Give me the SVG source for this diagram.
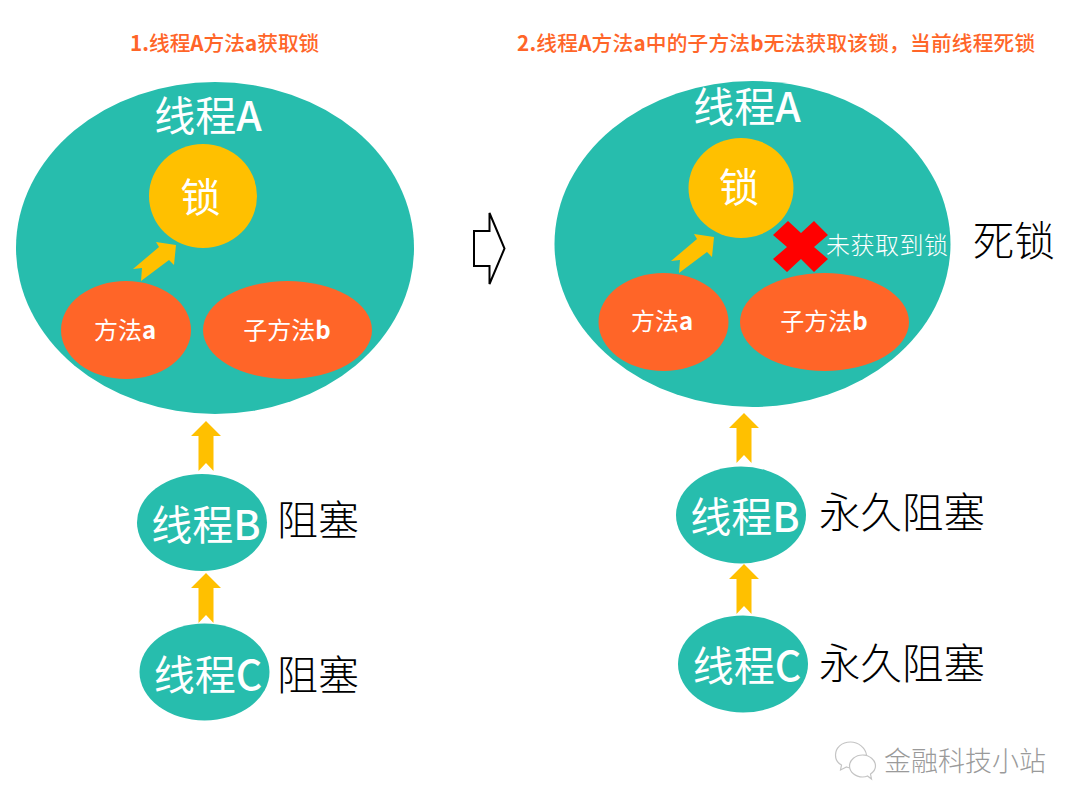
<svg xmlns="http://www.w3.org/2000/svg" width="1080" height="810" viewBox="0 0 1080 810">
<style>
text{font-family:"Noto Sans CJK SC","Noto Sans",sans-serif}
tspan{font-weight:500}
.teal{fill:#27bdad}.gold{fill:#ffc000}.org{fill:#ff6528}
.w{fill:#fff;font-weight:400}
.k{fill:#000;font-weight:300;font-size:41px}
.t{fill:#ff6528;font-weight:500;font-size:20.700px}
.t tspan{font-weight:700}
.m{font-size:24px;text-anchor:middle}
.m tspan{font-weight:700}
.b{font-size:41px;text-anchor:middle}
.p{font-size:41.500px}
</style>
<defs>
<polygon id="up" class="gold" points="0,0 15,15 7.500,15 7.500,50 0,42 -7.500,50 -7.500,15 -15,15"/>
<polygon id="diag" class="gold" points="0,0 -2,20 -7,15 -35,36 -34,23 -43,24 -17,2 -20,-3"/>
</defs>
<rect width="1080" height="810" fill="#fff"/>
<text class="t" x="130" y="51"><tspan>1.</tspan>线程<tspan>A</tspan>方法<tspan>a</tspan>获取锁</text>
<text class="t" x="517" y="51" letter-spacing="0.200"><tspan>2.</tspan>线程<tspan>A</tspan>方法<tspan>a</tspan>中的子方法<tspan>b</tspan>无法获取该锁，当前线程死锁</text>

<g id="threadA-left">
<ellipse class="teal" cx="215" cy="248" rx="199" ry="166"/>
<text class="w b" x="208" y="131">线程<tspan>A</tspan></text>
</g>
<g id="lock-left"><ellipse class="gold" cx="203" cy="196" rx="54" ry="52"/><text class="w" x="200.500" y="212" font-size="40" text-anchor="middle">锁</text></g>
<g id="methodA-left"><ellipse class="org" cx="126" cy="330" rx="65" ry="49"/><text class="w m" x="125" y="339">方法<tspan>a</tspan></text></g>
<g id="methodB-left"><ellipse class="org" cx="287.500" cy="330" rx="84.500" ry="49"/><text class="w m" x="287" y="339">子方法<tspan>b</tspan></text></g>
<g id="threadB-left"><ellipse class="teal" cx="202" cy="522.500" rx="65" ry="48.500"/><text class="w b" x="206" y="540">线程<tspan>B</tspan></text></g>
<g id="threadC-left"><ellipse class="teal" cx="204.500" cy="672" rx="65" ry="48.500"/><text class="w b" x="208" y="690">线程<tspan>C</tspan></text></g>
<text class="k" x="277" y="535">阻塞</text>
<text class="k" x="277" y="690">阻塞</text>

<polygon id="big-arrow" fill="#fff" stroke="#000" stroke-width="2" points="474,231 489.500,231 489.500,213 504.500,248.500 489.500,284 489.500,266 474,266"/>

<g id="threadA-right">
<ellipse class="teal" cx="752.500" cy="244" rx="198" ry="163"/>
<text class="w b" x="747" y="122">线程<tspan>A</tspan></text>
</g>
<g id="lock-right"><ellipse class="gold" cx="741" cy="188" rx="52.500" ry="50"/><text class="w" x="739" y="202" font-size="40" text-anchor="middle">锁</text></g>
<g id="methodA-right"><ellipse class="org" cx="663.500" cy="322" rx="65" ry="49"/><text class="w m" x="662" y="330">方法<tspan>a</tspan></text></g>
<g id="methodB-right"><ellipse class="org" cx="824.500" cy="322" rx="84.500" ry="49"/><text class="w m" x="824" y="330">子方法<tspan>b</tspan></text></g>
<g id="threadB-right"><ellipse class="teal" cx="741" cy="515" rx="65" ry="48.500"/><text class="w b" x="745" y="532">线程<tspan>B</tspan></text></g>
<g id="threadC-right"><ellipse class="teal" cx="743" cy="664" rx="65" ry="48.500"/><text class="w b" x="747" y="681">线程<tspan>C</tspan></text></g>
<g id="deny">
<polygon fill="#f00" points="773,235 788,221 801,233 814,221 828,235 814,247 828,259 814,272 801,259 787,272 773,259 787,247"/>
<text class="w" x="826" y="254" font-size="24" letter-spacing="0.500" style="font-weight:300">未获取到锁</text>
</g>
<text class="k" x="973" y="256">死锁</text>
<text class="k p" x="819" y="528">永久阻塞</text>
<text class="k p" x="819" y="679">永久阻塞</text>

<g id="connectors">
<use href="#diag" x="176" y="245"/>
<use href="#diag" x="714" y="237"/>
<use href="#up" x="206" y="421"/>
<use href="#up" x="206" y="573"/>
<use href="#up" x="744" y="413"/>
<use href="#up" x="744" y="564"/>
</g>

<g id="watermark" fill="#fff" stroke="#c4c4c4" stroke-width="1.200" transform="translate(-2.500,-2)">
<path d="M853 744c-9 0-15 6-15 13 0 4 2 8 6 10l-1 5 6-3c2 1 4 1 6 1 1-1 0-3 1-5 2-5 7-8 13-8-1-7-8-13-16-13z"/>
<path d="M865 757c-7 0-13 5-13 11s6 11 13 11c2 0 3 0 5-1l4 3-1-5c3-2 5-5 5-8 0-6-6-11-13-11z"/>
</g>
<text x="884" y="771" font-size="27" fill="#9a9a9a" font-weight="300">金融科技小站</text>
</svg>
